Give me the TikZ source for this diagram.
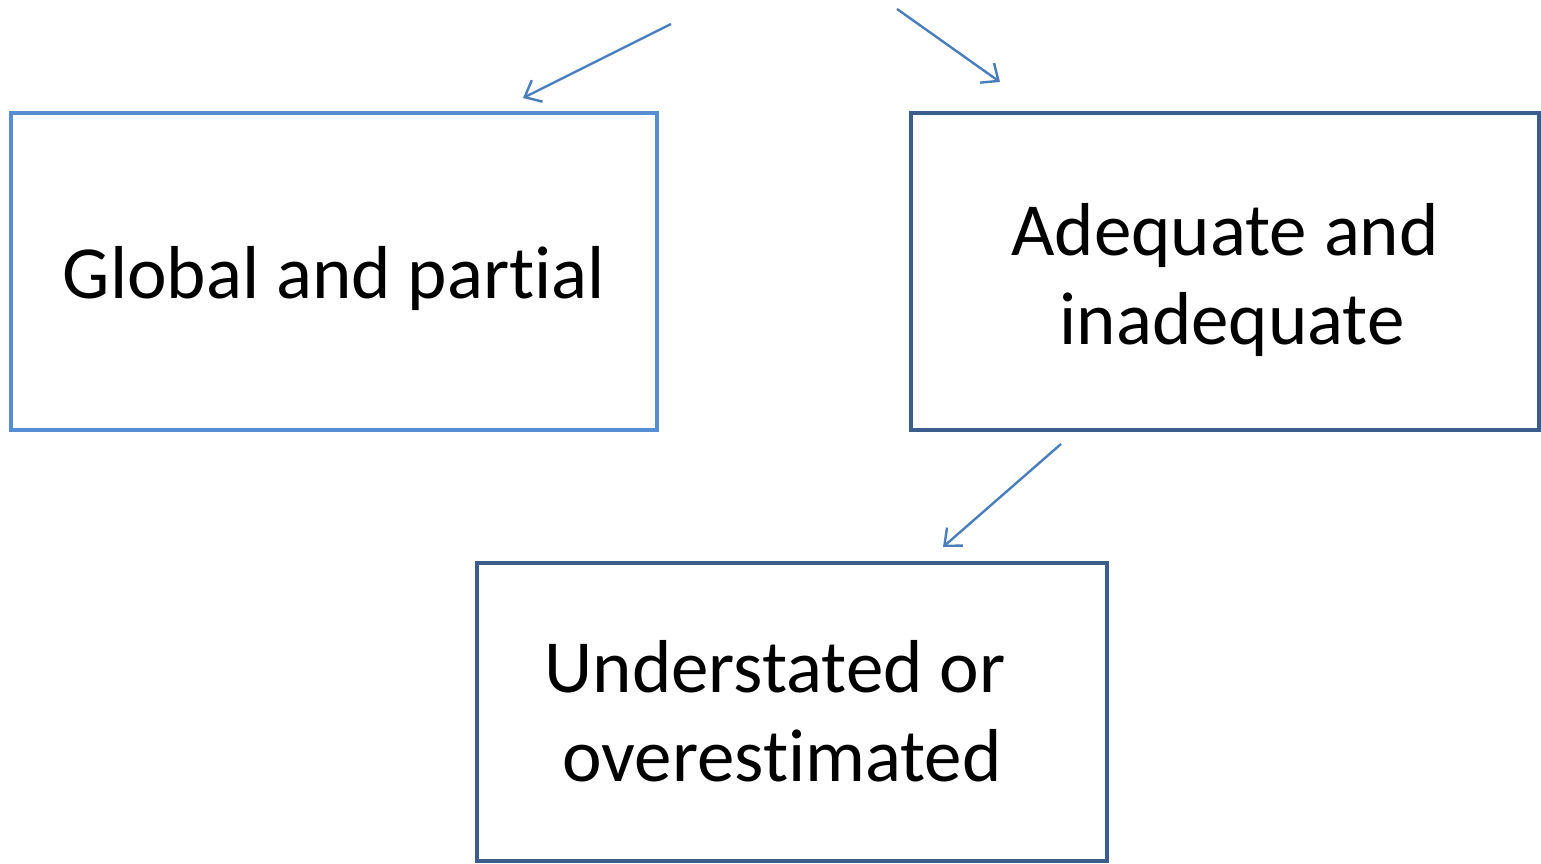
\documentclass[tikz,border=0pt]{standalone}
\usepackage{fontspec}
\setmainfont[Ligatures=NoCommon]{Carlito}
\usetikzlibrary{arrows.meta}
\definecolor{lightframe}{HTML}{558ED5}
\definecolor{darkframe}{HTML}{3A5D8C}
\definecolor{arrowblue}{HTML}{4A7EBB}
\begin{document}
\begin{tikzpicture}
			[x=1pt,y=-1pt,
			box/.style={draw,line width=4pt,inner sep=0pt},
			boxtext/.style={align=center,inner sep=0pt,
				font=\fontsize{75}{89}\selectfont},
			link/.style={arrowblue,line width=2.4pt,
				-{Straight Barb[length=14pt,width=24pt,line width=2.4pt]}}]
			\useasboundingbox (0,0) rectangle (1541,863);
			\node[box,lightframe,minimum width=646pt,minimum height=317pt]
				(global) at (334,271.5) {};
			\node[box,darkframe,minimum width=628pt,minimum height=317pt]
				(adequate) at (1225,271.5) {};
			\node[box,darkframe,minimum width=630pt,minimum height=298pt]
				(under) at (792,712) {};
			\node[boxtext] (global text) at ([yshift=-7pt]global.center)
				{Global and partial};
			\node[boxtext] (adequate text) at ([yshift=-8pt]adequate.center)
				{Adequate and\\ \hspace*{14pt}inadequate};
			\node[boxtext] (under text) at ([yshift=1pt]under.center)
				{\hspace*{-34pt}Understated or\\ \hspace*{-20pt}overestimated};
			\coordinate (s1) at (671,24);
			\coordinate (e1) at (523,98);
			\coordinate (s2) at (897,9);
			\coordinate (e2) at (1000,82);
			\coordinate (s3) at (1061,444);
			\coordinate (e3) at (943,547);
			\draw[link] (s1) -- (e1);
			\draw[link] (s2) -- (e2);
			\draw[link] (s3) -- (e3);
		\end{tikzpicture}
\end{document}
